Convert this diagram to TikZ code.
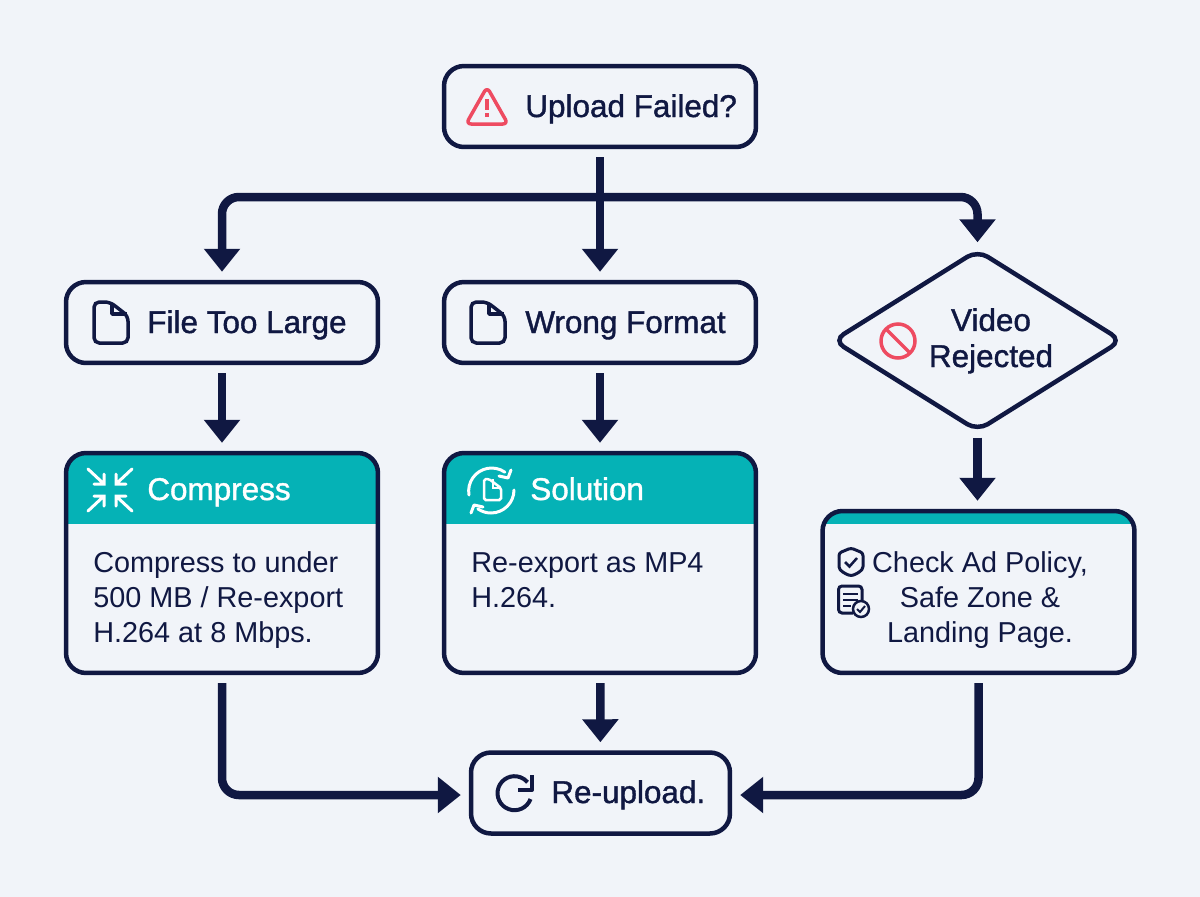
\documentclass[tikz,border=0pt]{standalone}
\usepackage{fontspec}
\setmainfont{Liberation Sans}
\newfontfamily\medfont[FakeBold=1.2]{Liberation Sans}
\usepackage{tikz}
\usetikzlibrary{arrows.meta,shapes.geometric}

\definecolor{navy}{HTML}{101842}
\definecolor{tealhead}{HTML}{05B2B6}
\definecolor{alertred}{HTML}{EE4B61}
\definecolor{pagebg}{HTML}{F1F4F9}

\tikzset{
   filepic/.pic={
      \draw[icon,rounded corners=3pt] (-1,-20) -- (-17,-20) -- (-17,21) -- (17,21) -- (17,-6) -- cycle;
      \draw[icon,line join=round] (1,-19) -- (1,-8) -- (16,-8);
   }
}

\begin{document}
\begin{tikzpicture}[
      x=0.02cm,y=-0.02cm,
      mybox/.style={
         rectangle,
         draw=navy,
         line width=0.09cm,
         rounded corners=0.4cm,
         fill=pagebg,
         inner sep=0pt,
         minimum width=6.24cm,
         minimum height=1.62cm},
      mycard/.style={
         mybox,
         minimum height=#1,
         path picture={
            \fill[tealhead,sharp corners] ([yshift=0.02cm]path picture bounding box.north west) rectangle
               ([yshift=-\myheadh]path picture bounding box.north east);}},
      mydiamond/.style={
         diamond,
         draw=navy,
         line width=0.09cm,
         rounded corners=0.24cm,
         fill=pagebg,
         inner sep=0pt,
         minimum width=5.8cm,
         minimum height=3.64cm},
      mytitle/.style={
         rectangle,
         anchor=base west,
         inner sep=0pt,
         text=navy,
         font=\fontsize{17.9pt}{20.5pt}\medfont},
      myhead/.style={mytitle,text=white},
      mytext/.style={
         rectangle,
         anchor=base west,
         inner sep=0pt,
         align=left,
         text=navy,
         font=\fontsize{16.4pt}{19.8pt}\selectfont},
      myarrow/.style={
         draw=navy,
         line width=0.17cm,
         rounded corners=0.34cm,
         -{Triangle[width=0.7cm,length=0.46cm]},
         shorten <=0.16cm,
         shorten >=0.16cm},
      icon/.style={draw=navy,line width=0.07cm},
      iconred/.style={draw=alertred,line width=0.07cm},
      iconwhite/.style={draw=white,line width=0.06cm,line cap=round},
      ]
      \useasboundingbox (0,0) rectangle (1200,896);
      \fill[pagebg] (-5,-5) rectangle (1205,901);
      % boxes
      \node[mybox] (upload) at (600,106.5) {};
      \node[mybox] (toolarge) at (222,322.5) {};
      \node[mybox] (format) at (600,322.5) {};
      \node[mydiamond] (rejected) at (977.5,340.5) {};
      \def\myheadh{1.42cm}
      \node[mycard=4.4cm] (compress) at (222,563) {};
      \node[mycard=4.4cm] (solution) at (600,563) {};
      \def\myheadh{0.26cm}
      \node[mycard=3.24cm] (policy) at (978.5,592) {};
      \node[mybox,minimum width=5.18cm] (reupload) at (600.5,793) {};
      % texts
      \node[mytitle] (t1) at (525,117) {Upload Failed?};
      \node[mytitle] (t2) at (147,333) {File Too Large};
      \node[mytitle] (t3) at (525,333) {Wrong Format};
      \node[mytitle,align=center,anchor=base] (t4) at (991,367) {Video\\Rejected};
      \node[myhead] (t5) at (147,500) {Compress};
      \node[myhead] (t6) at (530,500) {Solution};
      \node[mytext] (t7) at (93,642) {Compress to under\\500 MB / Re-export\\H.264 at 8 Mbps.};
      \node[mytext] (t8) at (471,607) {Re-export as MP4\\H.264.};
      \node[mytext,align=center,anchor=base] (t9) at (980,642) {Check Ad Policy,\\Safe Zone \&\\Landing Page.};
      \node[mytitle] (t10) at (551,803) {Re-upload.};
      % icons
      \draw[iconred,line join=round,rounded corners=3pt] (487,87) -- (508,124) -- (466,124) -- cycle;
      \draw[iconred] (487,99) -- (487,110) (487,113) -- (487,117);
      \pic at (111,322) {filepic};
      \pic at (488,322) {filepic};
      \draw[iconred] (898,341) circle (17);
      \draw[iconred] (886,329) -- (910,353);
      \foreach \sx/\sy in {-1/-1,1/-1,-1/1,1/1}
         \draw[iconwhite] (110+22*\sx,490+21*\sy) -- (110+6*\sx,490+6*\sy)
            (110+6*\sx,490+16*\sy) -- (110+6*\sx,490+6*\sy) -- (110+16*\sx,490+6*\sy);
      \draw[iconwhite] (469,495) arc[start angle=170,end angle=305,radius=23];
      \draw[iconwhite] (514,490) arc[start angle=0,end angle=125,radius=23];
      \draw[iconwhite,line join=round] (511,470) -- (508,478) -- (499,476);
      \draw[iconwhite,line join=round] (471,513) -- (474,505) -- (483,507);
      \draw[draw=white,line width=0.05cm,rounded corners=1pt] (489,479) -- (484,479) -- (484,500) -- (501,500) -- (501,488) -- cycle;
      \draw[draw=white,line width=0.04cm] (493,479) -- (493,488) -- (501,488);
      % shield
      \draw[icon,line width=0.06cm,line join=round,rounded corners=1.5pt] (851,548) -- (863,553) -- (863,564) .. controls (863,571) and (856,574) .. (851,576)
         .. controls (846,574) and (839,571) .. (839,564) -- (839,553) -- cycle;
      \draw[icon,line width=0.05cm] (845,562) -- (849.5,566.5) -- (857,558);
      % page with check
      \draw[icon,line width=0.06cm,rounded corners=2pt] (853,613) -- (838.5,613) -- (838.5,586) -- (862,586) -- (862,600);
      \draw[icon,line width=0.05cm] (843,594) -- (858,594) (843,600) -- (858,600) (843,606) -- (851,606);
      \draw[icon,line width=0.05cm,fill=pagebg] (861,609) circle (8);
      \draw[icon,line width=0.04cm] (857,609) -- (860,612) -- (865,606);
      % reload
      \draw[icon,line width=0.08cm] (530.5,799) arc[start angle=20,end angle=320,radius=17];
      \draw[icon,line width=0.08cm,line join=round] (532,775) -- (532,790) -- (518,790);
      % connectors
      \coordinate (split) at (600,197);
      \draw[myarrow] (upload) -- (format);
      \draw[myarrow,shorten <=0pt] (split) -| (toolarge);
      \draw[myarrow,shorten <=0pt,shorten >=0.1cm] (split) -| (rejected);
      \draw[myarrow] (toolarge) -- (compress);
      \draw[myarrow] (format) -- (solution);
      \draw[myarrow,shorten <=0.08cm] (rejected) -- (rejected |- policy.north);
      \draw[myarrow] (compress) |- ([yshift=-0.04cm]reupload.west);
      \draw[myarrow] (solution) -- (reupload);
      \draw[myarrow] (policy) |- ([yshift=-0.04cm]reupload.east);
\end{tikzpicture}
\end{document}
